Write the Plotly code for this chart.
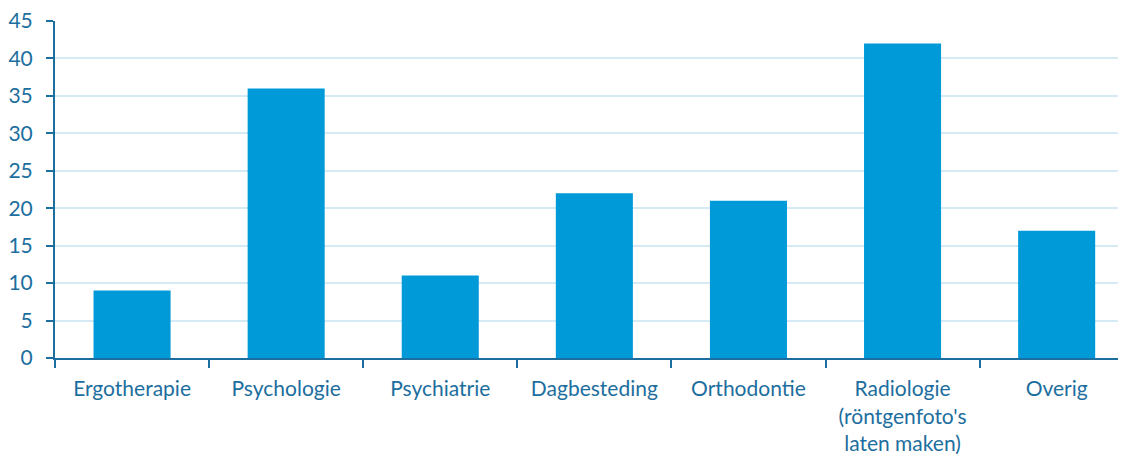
import plotly.graph_objects as go

categories = ["Ergotherapie", "Psychologie", "Psychiatrie", "Dagbesteding",
              "Orthodontie", "Radiologie<br>(röntgenfoto's<br>laten maken)", "Overig"]
values = [9, 36, 11, 22, 21, 42, 17]
y_ticks = [0, 5, 10, 15, 20, 25, 30, 35, 40, 45]

txt = "#1C6E9E"
fig = go.Figure(go.Bar(x=categories, y=values, marker=dict(color="#009AD9", line=dict(width=0)), width=0.5))
fig.update_layout(
    width=1118, height=451,
    margin=dict(l=47, r=0, t=13, b=101),
    plot_bgcolor="white", paper_bgcolor="white",
    font=dict(family="Lato, Carlito, sans-serif", size=20, color=txt),
    showlegend=False,
)
fig.update_xaxes(range=[-0.5, 6.45], showline=True, linecolor=txt, linewidth=2,
                 ticks="outside", tickson="boundaries", ticklen=8, tickcolor=txt, tickwidth=2,
                 showgrid=False, tickfont=dict(size=21, color=txt), ticklabelstandoff=11)
fig.update_yaxes(range=[0, 45], tickvals=y_ticks, showline=True, linecolor=txt, linewidth=2,
                 ticks="outside", ticklen=7, tickcolor=txt, tickwidth=2,
                 showgrid=True, gridcolor="#D4EBF6", gridwidth=2, zeroline=False,
                 tickfont=dict(size=21, color=txt), ticklabelstandoff=9,
                 ticklabeloverflow="allow")
fig.write_html("out.html")
